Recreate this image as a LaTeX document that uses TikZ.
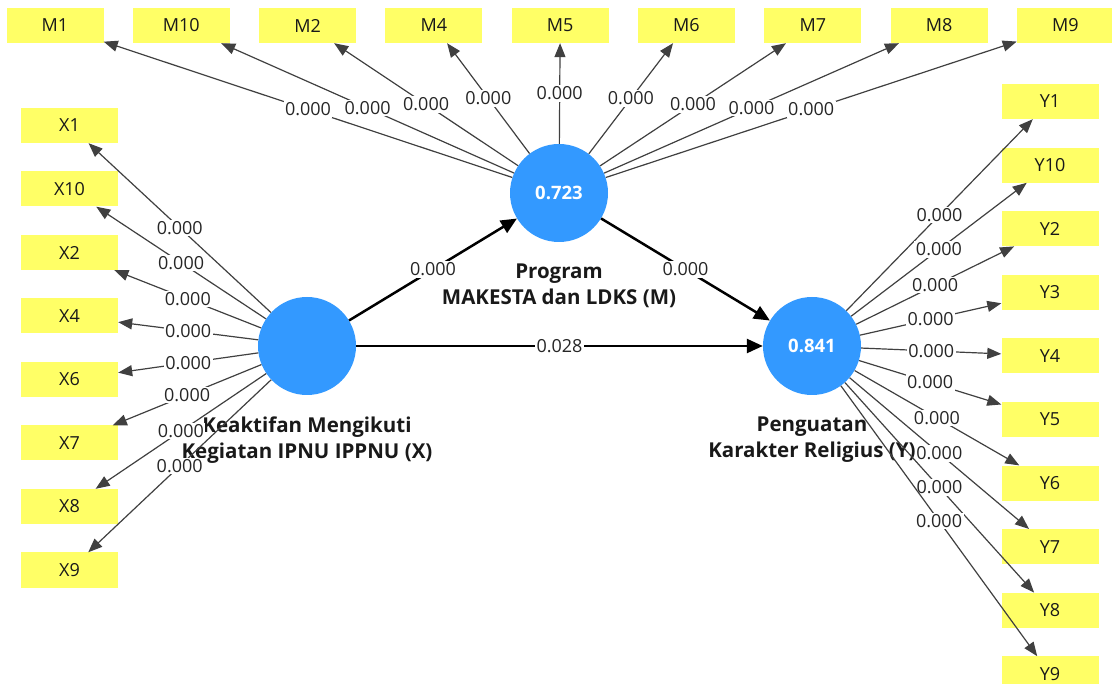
\documentclass[tikz,border=0pt]{standalone}
\usepackage{fontspec}
\setmainfont{Open Sans}
\usetikzlibrary{positioning,arrows.meta}

\definecolor{lvblue}{RGB}{51,153,255}
\definecolor{indyellow}{RGB}{255,255,102}

\tikzset{
  latent/.style={circle, fill=lvblue, minimum size=98pt, inner sep=0pt,
    text=white, font=\fontsize{18.5}{20}\selectfont\bfseries},
  ind/.style={rectangle, fill=indyellow, minimum width=97pt, minimum height=35pt,
    inner sep=0pt, text=black!90, font=\fontsize{18}{20}\selectfont},
  caption/.style={align=center, inner sep=0pt, text=black!90,
    font=\fontsize{20.5}{26}\selectfont\bfseries},
  wt/.style={fill=white, inner sep=1.5pt, text=black!85,
    font=\fontsize{18}{20}\selectfont},
  load/.style={draw=black!75, line width=1.2pt,
    -{Triangle[length=14pt,width=11pt]}},
  struct/.style={draw=black, line width=2.5pt,
    -{Triangle[length=16pt,width=14pt]}},
}

\begin{document}
\begin{tikzpicture}[x=1pt,y=-1pt]
  \useasboundingbox (0,0) rectangle (1112,684);
  % Nodes

  % Latent variables
  \node[latent] (x) at (307,346) {} ;
  \node[latent] (m) at (559,193) {0.723} ;
  \node[latent] (y) at (812,346) {0.841} ;
  \node[caption, below=21pt of x] (x-cap) {Keaktifan Mengikuti\\Kegiatan IPNU IPPNU (X)} ;
  \node[caption, below=21pt of m] (m-cap) {Program\\MAKESTA dan LDKS (M)} ;
  \node[caption, below=21pt of y] (y-cap) {Penguatan\\Karakter Religius (Y)} ;

  % Indicators of M
  \node[ind] (m1) at (55,25.5) {M1} ;
  \node[ind, right=28.9pt of m1] (m10) {M10} ;
  \node[ind, right=28.9pt of m10] (m2) {M2} ;
  \node[ind, right=28.9pt of m2] (m4) {M4} ;
  \node[ind, right=28.9pt of m4] (m5) {M5} ;
  \node[ind, right=28.9pt of m5] (m6) {M6} ;
  \node[ind, right=28.9pt of m6] (m7) {M7} ;
  \node[ind, right=28.9pt of m7] (m8) {M8} ;
  \node[ind, right=28.9pt of m8] (m9) {M9} ;

  % Indicators of X
  \node[ind] (x1) at (69.5,125.5) {X1} ;
  \node[ind, below=28.1pt of x1] (x10) {X10} ;
  \node[ind, below=28.1pt of x10] (x2) {X2} ;
  \node[ind, below=28.1pt of x2] (x4) {X4} ;
  \node[ind, below=28.1pt of x4] (x6) {X6} ;
  \node[ind, below=28.1pt of x6] (x7) {X7} ;
  \node[ind, below=28.1pt of x7] (x8) {X8} ;
  \node[ind, below=28.1pt of x8] (x9) {X9} ;

  % Indicators of Y
  \node[ind] (y1) at (1050,101.5) {Y1} ;
  \node[ind, below=28.2pt of y1] (y10) {Y10} ;
  \node[ind, below=28.2pt of y10] (y2) {Y2} ;
  \node[ind, below=28.2pt of y2] (y3) {Y3} ;
  \node[ind, below=28.2pt of y3] (y4) {Y4} ;
  \node[ind, below=28.2pt of y4] (y5) {Y5} ;
  \node[ind, below=28.2pt of y5] (y6) {Y6} ;
  \node[ind, below=28.2pt of y6] (y7) {Y7} ;
  \node[ind, below=28.2pt of y7] (y8) {Y8} ;
  \node[ind, below=28.2pt of y8] (y9) {Y9} ;

  % Connect the nodes

  % Outer loadings of M
  \draw[load] (m) -- node[wt] {0.000} (m1) ;
  \draw[load] (m) -- node[wt] {0.000} (m10) ;
  \draw[load] (m) -- node[wt] {0.000} (m2) ;
  \draw[load] (m) -- node[wt] {0.000} (m4) ;
  \draw[load] (m) -- node[wt] {0.000} (m5) ;
  \draw[load] (m) -- node[wt] {0.000} (m6) ;
  \draw[load] (m) -- node[wt] {0.000} (m7) ;
  \draw[load] (m) -- node[wt] {0.000} (m8) ;
  \draw[load] (m) -- node[wt] {0.000} (m9) ;

  % Outer loadings of X
  \draw[load] (x) -- node[wt] {0.000} (x9) ;
  \draw[load] (x) -- node[wt] {0.000} (x8) ;
  \draw[load] (x) -- node[wt] {0.000} (x7) ;
  \draw[load] (x) -- node[wt] {0.000} (x6) ;
  \draw[load] (x) -- node[wt] {0.000} (x4) ;
  \draw[load] (x) -- node[wt] {0.000} (x2) ;
  \draw[load] (x) -- node[wt] {0.000} (x10) ;
  \draw[load] (x) -- node[wt] {0.000} (x1) ;

  % Outer loadings of Y
  \draw[load] (y) -- node[wt] {0.000} (y1) ;
  \draw[load] (y) -- node[wt] {0.000} (y10) ;
  \draw[load] (y) -- node[wt] {0.000} (y2) ;
  \draw[load] (y) -- node[wt] {0.000} (y3) ;
  \draw[load] (y) -- node[wt] {0.000} (y4) ;
  \draw[load] (y) -- node[wt] {0.000} (y5) ;
  \draw[load] (y) -- node[wt] {0.000} (y6) ;
  \draw[load] (y) -- node[wt] {0.000} (y7) ;
  \draw[load] (y) -- node[wt] {0.000} (y8) ;
  \draw[load] (y) -- node[wt] {0.000} (y9) ;

  % Inner model
  \draw[struct] (x) -- node[wt] {0.000} (m) ;
  \draw[struct] (m) -- node[wt] {0.000} (y) ;
  \draw[struct] (x) -- node[wt] {0.028} (y) ;
\end{tikzpicture}
\end{document}
